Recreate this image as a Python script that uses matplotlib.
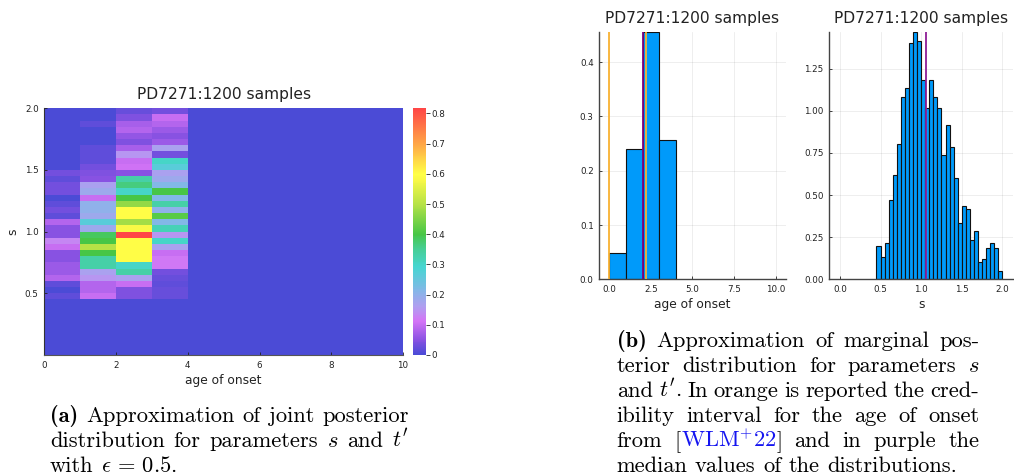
import numpy as np
import matplotlib
matplotlib.use("Agg")
import matplotlib.pyplot as plt
from matplotlib.colors import LinearSegmentedColormap

# ------------------------------------------------------------------ data
title = "PD7271:1200 samples"

# joint posterior (density) ; rows = s bins from 1.95-2.00 (top) down to 0.45-0.50
# columns = age-of-onset bins [0-1, 1-2, 2-3, 3-4]
joint_rows = [
    [0.000, 0.000, 0.025, 0.033],
    [0.000, 0.000, 0.042, 0.100],
    [0.000, 0.017, 0.075, 0.083],
    [0.000, 0.000, 0.083, 0.067],
    [0.000, 0.000, 0.058, 0.050],
    [0.000, 0.000, 0.042, 0.067],
    [0.000, 0.017, 0.075, 0.167],
    [0.000, 0.017, 0.150, 0.033],
    [0.000, 0.017, 0.100, 0.300],
    [0.000, 0.033, 0.108, 0.267],
    [0.033, 0.042, 0.050, 0.167],
    [0.017, 0.050, 0.333, 0.183],
    [0.033, 0.167, 0.367, 0.217],
    [0.033, 0.183, 0.300, 0.400],
    [0.000, 0.100, 0.400, 0.217],
    [0.017, 0.200, 0.467, 0.333],
    [0.033, 0.200, 0.600, 0.200],
    [0.017, 0.183, 0.600, 0.417],
    [0.083, 0.267, 0.483, 0.217],
    [0.050, 0.183, 0.583, 0.317],
    [0.050, 0.383, 0.817, 0.150],
    [0.133, 0.400, 0.600, 0.300],
    [0.100, 0.500, 0.600, 0.167],
    [0.050, 0.400, 0.600, 0.100],
    [0.050, 0.333, 0.600, 0.117],
    [0.067, 0.333, 0.300, 0.117],
    [0.067, 0.167, 0.333, 0.033],
    [0.083, 0.150, 0.167, 0.025],
    [0.017, 0.083, 0.100, 0.017],
    [0.000, 0.083, 0.042, 0.025],
    [0.017, 0.100, 0.042, 0.025],
]
joint_top_s = 2.0
age_range = (0, 10)     # 10 bins of width 1
s_range = (0.0, 2.0)    # 40 bins of width 0.05
cbar_ticks = [0, 0.1, 0.2, 0.3, 0.4, 0.5, 0.6, 0.7, 0.8]
cbar_ticklabels = ["0", "0.1", "0.2", "0.3", "0.4", "0.5", "0.6", "0.7", "0.8"]

# marginal of age of onset
age_bin_left = [0, 1, 2, 3]
age_density = [0.048, 0.240, 0.455, 0.257]
age_credible = [0.0, 2.22]
age_median = 2.02

# marginal of s (bins of 0.05 starting at 0.45)
s_bin_left0 = 0.45
s_bin_width = 0.05
s_density = [0.200, 0.134, 0.218, 0.469, 0.619, 0.801, 1.084, 1.133, 1.400, 1.466,
             1.416, 1.183, 1.017, 1.183, 1.084, 1.017, 0.736, 0.918, 0.785, 0.599,
             0.336, 0.435, 0.417, 0.233, 0.285, 0.101, 0.119, 0.184, 0.218, 0.184,
             0.051]
s_median = 1.06

caption_a = [
    "(a) Approximation of joint posterior",
    "distribution for parameters $s$ and $t'$",
    "with $\\epsilon\\,=\\,0.5$.",
]
caption_b = [
    "(b) Approximation of marginal pos-",
    "terior distribution for parameters $s$",
    "and $t'$. In orange is reported the cred-",
    "ibility interval for the age of onset",
    "from [|WLM$^{+}$22|] and in purple the",
    "median values of the distributions.",
]

# ------------------------------------------------------------------ style
W, H = 1014, 474
fig = plt.figure(figsize=(W / 100, H / 100), dpi=100)
plt.rcParams["mathtext.fontset"] = "cm"
TXT = "#222222"
TICK_FS = 6.3
LAB_FS = 8.8
TITLE_FS = 11.2


def px_axes(l, t, r, b):
    return fig.add_axes([l / W, 1 - b / H, (r - l) / W, (b - t) / H])


# ------------------------------------------------------------------ heatmap
cmap = LinearSegmentedColormap.from_list(
    "rb",
    [(0.0, "#4B4BD6"), (0.05 / 0.817, "#8A52E2"), (0.11 / 0.817, "#D474F6"),
     (0.16 / 0.817, "#B09EF0"), (0.21 / 0.817, "#86B6E8"), (0.29 / 0.817, "#46D6D2"),
     (0.35 / 0.817, "#46CE96"), (0.40 / 0.817, "#46C646"), (0.50 / 0.817, "#B6E246"),
     (0.58 / 0.817, "#F8F846"), (0.60 / 0.817, "#FFFF46"), (0.70 / 0.817, "#FFA646"),
     (1.0, "#FF4646")])

n_age = age_range[1] - age_range[0]
n_s = 40
Z = np.zeros((n_s, n_age))
for k, row in enumerate(joint_rows):
    i = int(round((joint_top_s - s_range[0]) / s_bin_width)) - 1 - k
    Z[i, :len(row)] = row
xe = np.linspace(age_range[0], age_range[1], n_age + 1)
ye = np.linspace(s_range[0], s_range[1], n_s + 1)

axh = px_axes(44.3, 108.3, 403, 355)
vmax = max(max(r) for r in joint_rows)
mesh = axh.pcolormesh(xe, ye, Z, cmap=cmap, vmin=0, vmax=vmax, shading="flat")
axh.set_xlim(0, 10)
axh.set_ylim(0, 2)
axh.set_xticks([0, 2, 4, 6, 8, 10])
axh.set_yticks([0.5, 1.0, 1.5, 2.0])
axh.set_yticklabels(["0.5", "1.0", "1.5", "2.0"])
axh.tick_params(labelsize=TICK_FS, colors=TXT, length=2, width=0.6, direction="in", pad=4)
for sp in ["top", "right"]:
    axh.spines[sp].set_visible(False)
axh.spines["left"].set_color("#333333")
axh.spines["bottom"].set_color("#555555")
axh.spines["left"].set_linewidth(0.8)
axh.spines["bottom"].set_linewidth(0.8)
axh.set_xlabel("age of onset", fontsize=LAB_FS, color=TXT, labelpad=3)
axh.set_ylabel("s", fontsize=LAB_FS, color=TXT, labelpad=4)
axh.set_title(title, fontsize=TITLE_FS, color=TXT, pad=7)

axc = px_axes(412.5, 108.3, 425.5, 355)
cb = fig.colorbar(mesh, cax=axc)
cb.outline.set_visible(False)
cb.set_ticks(cbar_ticks)
cb.set_ticklabels(cbar_ticklabels)
axc.tick_params(labelsize=TICK_FS, colors=TXT, length=3, width=0.6, pad=1.5)

# ------------------------------------------------------------------ histograms
BLUE = "#009AFA"


def style_hist(ax):
    for sp in ["top", "right"]:
        ax.spines[sp].set_visible(False)
    for sp in ["left", "bottom"]:
        ax.spines[sp].set_color("#444444")
        ax.spines[sp].set_linewidth(1.0)
    ax.grid(True, color="#000000", alpha=0.08, linewidth=0.6)
    ax.set_axisbelow(True)
    ax.tick_params(labelsize=TICK_FS, colors=TXT, length=2.5, width=0.6, direction="in", pad=4)
    ax.set_title(title, fontsize=TITLE_FS, color=TXT, pad=6.5)


ax1 = px_axes(599.3, 32.3, 785.5, 279.3)
ax1.bar(age_bin_left, age_density, width=1, align="edge", color=BLUE,
        edgecolor="#111111", linewidth=0.8, zorder=2)
for xv in age_credible:
    ax1.axvline(xv, color="#F9B233", linewidth=1.3, zorder=4)
ax1.axvline(age_median, color="#800080", linewidth=1.3, zorder=3)
ax1.set_xlim(-0.6, 10.6)
ax1.set_ylim(0, max(age_density))
ax1.set_xticks([0, 2.5, 5, 7.5, 10])
ax1.set_xticklabels(["0.0", "2.5", "5.0", "7.5", "10.0"])
ax1.set_yticks([0, 0.1, 0.2, 0.3, 0.4])
ax1.set_yticklabels(["0.0", "0.1", "0.2", "0.3", "0.4"])
ax1.set_xlabel("age of onset", fontsize=LAB_FS, color=TXT, labelpad=3)
style_hist(ax1)

ax2 = px_axes(829.3, 32.3, 1013, 279.3)
s_left = [s_bin_left0 + s_bin_width * i for i in range(len(s_density))]
ax2.bar(s_left, s_density, width=s_bin_width, align="edge", color=BLUE,
        edgecolor="#111111", linewidth=0.8, zorder=2)
ax2.axvline(s_median, color="#8E1E96", linewidth=1.3, zorder=3)
ax2.set_xlim(-0.13, 2.13)
ax2.set_ylim(0, max(s_density))
ax2.set_xticks([0, 0.5, 1.0, 1.5, 2.0])
ax2.set_xticklabels(["0.0", "0.5", "1.0", "1.5", "2.0"])
ax2.set_yticks([0, 0.25, 0.5, 0.75, 1.0, 1.25])
ax2.set_yticklabels(["0.00", "0.25", "0.50", "0.75", "1.00", "1.25"])
ax2.set_xlabel("s", fontsize=LAB_FS, color=TXT, labelpad=3)
style_hist(ax2)

# ------------------------------------------------------------------ captions (justified)
BASE_FS = 15.0
fig.canvas.draw()
renderer = fig.canvas.get_renderer()


def parse_word(word):
    # segments separated by '|' ; odd segments are blue (citation)
    segs = []
    for j, part in enumerate(word.split("|")):
        if part == "":
            continue
        bold = part in ("(a)", "(b)")
        color = "#1515F0" if j % 2 == 1 else "black"
        segs.append((part, color, bold))
    return segs


def split_words(line):
    # split on spaces that are outside math
    words, cur, inmath = [], "", False
    for ch in line:
        if ch == "$":
            inmath = not inmath
        if ch == " " and not inmath:
            words.append(cur)
            cur = ""
        else:
            cur += ch
    words.append(cur)
    return words


def seg_width(s, bold, fs):
    t = fig.text(0, 0, s, fontsize=fs, family="cmb10" if bold else "cmr10")
    w = t.get_window_extent(renderer).width
    t.remove()
    return w


def natural_width(line, fs):
    words = [parse_word(w) for w in split_words(line)]
    tot = sum(seg_width(s, b, fs) for wd in words for (s, c, b) in wd)
    return tot + (len(words) - 1) * 0.36 * fs * 100 / 72


# choose a size for which the justified lines need only a natural word spacing
ratios = []
for lines, x0, x1 in ((caption_a, 50, 409), (caption_b, 616.7, 979.3)):
    for ln in lines[:-1]:
        ratios.append((x1 - x0) / natural_width(ln, BASE_FS))
CAP_FS = BASE_FS * float(np.median(ratios)) * 0.98
SPACE = 0.333 * CAP_FS * 100 / 72


def draw_caption(lines, x0, x1, y0, dy):
    for li, line in enumerate(lines):
        words = [parse_word(w) for w in split_words(line)]
        widths = [[seg_width(s, b, CAP_FS) for (s, c, b) in wd] for wd in words]
        total = sum(sum(ws) for ws in widths)
        last = li == len(lines) - 1
        gap = SPACE if last else (x1 - x0 - total) / (len(words) - 1)
        x = x0
        y = y0 + li * dy
        for wd, ws in zip(words, widths):
            for (s, c, b), w in zip(wd, ws):
                fig.text(x / W, 1 - y / H, s, fontsize=CAP_FS, color=c,
                         family="cmb10" if b else "cmr10", ha="left", va="baseline")
                x += w
            x += gap


draw_caption(caption_a, 50, 409, 421.7, 25.0)
draw_caption(caption_b, 616.7, 979.3, 346.7, 25.0)

fig.savefig("out.png", dpi=100)
